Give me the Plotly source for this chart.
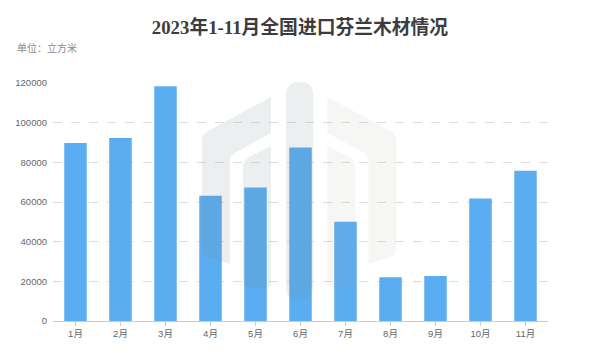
import plotly.graph_objects as go

months = ["1月", "2月", "3月", "4月", "5月", "6月", "7月", "8月", "9月", "10月", "11月"]
volumes = [89700, 92300, 118300, 63100, 67300, 87500, 50100, 22000, 22700, 61700, 75700]
y_ticks = [0, 20000, 40000, 60000, 80000, 100000, 120000]

title_text = "2023年1-11月全国进口芬兰木材情况"
unit_text = "单位：立方米"

# plot-area geometry (pixels) used for the decorative watermark
L, R, T, B = 53, 548, 82, 321


def px(x, y):
    return f"{(x - L) / (R - L):.4f},{(B - y) / (B - T):.4f}"


def path_from(cmds):
    out = []
    for c in cmds:
        if c[0] == "Z":
            out.append("Z")
        elif c[0] == "Q":
            out.append(f"Q{px(*c[1])} {px(*c[2])}")
        else:
            out.append(f"{c[0]}{px(*c[1])}")
    return " ".join(out)


CX = 299.2


def mirror(cmds):
    res = []
    for c in cmds:
        if c[0] == "Z":
            res.append(c)
        else:
            res.append((c[0],) + tuple((2 * CX - p[0], p[1]) for p in c[1:]))
    return res


outer_left = [("M", (271, 97)), ("L", (208, 131)), ("Q", (202, 134), (202, 141)),
              ("L", (202, 249)), ("Q", (202, 254), (207, 257)), ("L", (230, 264)),
              ("L", (230, 161)), ("Q", (230, 155), (236, 152)), ("L", (271, 133)), ("Z",)]
inner_left = [("M", (271, 146)), ("L", (249, 157)), ("Q", (243, 160), (243, 167)),
              ("L", (243, 281)), ("Q", (243, 288), (250, 288)), ("L", (264, 288)),
              ("Q", (271, 288), (271, 281)), ("Z",)]
pill = [("M", (286, 95)), ("Q", (286, 82), (299.5, 82)), ("Q", (313, 82), (313, 95)),
        ("L", (313, 287)), ("Q", (313, 300), (299.5, 300)), ("Q", (286, 300), (286, 287)), ("Z",)]

left_col = "rgba(110,135,135,0.13)"
right_col = "rgba(160,150,130,0.09)"

shapes = []
for cmds, col in [(outer_left, left_col), (inner_left, left_col), (pill, left_col),
                  (mirror(outer_left), right_col), (mirror(inner_left), right_col)]:
    shapes.append(dict(type="path", xref="paper", yref="paper", path=path_from(cmds),
                       fillcolor=col, line=dict(width=0), layer="above"))

fig = go.Figure()
fig.add_trace(go.Bar(
    x=months, y=volumes,
    marker=dict(color="#5BADF2", line=dict(width=0)),
    hoverinfo="x+y",
))

fig.update_layout(
    width=600, height=360,
    margin=dict(l=L, r=600 - R, t=T, b=360 - B),
    paper_bgcolor="white", plot_bgcolor="white",
    bargap=0.5,
    showlegend=False,
    shapes=shapes,
    title=dict(
        text="<b>" + title_text + "</b>",
        x=0.5, xanchor="center", y=1 - 27 / 360, yanchor="middle",
        font=dict(family="Liberation Serif, Noto Sans CJK SC", size=18.8, color="#3c3c3c"),
    ),
    annotations=[dict(
        text=unit_text, xref="paper", yref="paper",
        x=(15 - L) / (R - L), y=(B - 47) / (B - T), xanchor="left", yanchor="middle",
        showarrow=False,
        font=dict(family="Noto Sans CJK SC", size=10, color="#8a8a8a"),
    )],
    font=dict(family="Liberation Sans, Noto Sans CJK SC", size=9.5, color="#666666"),
)

fig.update_xaxes(
    showline=True, linecolor="#cccccc", linewidth=1,
    ticks="outside", ticklen=4, tickcolor="#cccccc",
    showgrid=False,
    tickfont=dict(family="Liberation Sans, Noto Sans CJK SC", size=9.5, color="#666666"),
)
fig.update_yaxes(
    range=[0, 120500], tickvals=y_ticks, ticktext=[str(v) for v in y_ticks],
    showline=False, zeroline=False,
    showgrid=True, gridcolor="#dddddd", griddash="dash", gridwidth=1,
    ticks="", ticklabelstandoff=5,
    tickfont=dict(family="Liberation Sans", size=9.5, color="#666666"),
)

fig.write_html("out.html", config={"displayModeBar": False},
               post_script="document.body.style.margin='0';document.body.style.padding='0';")
